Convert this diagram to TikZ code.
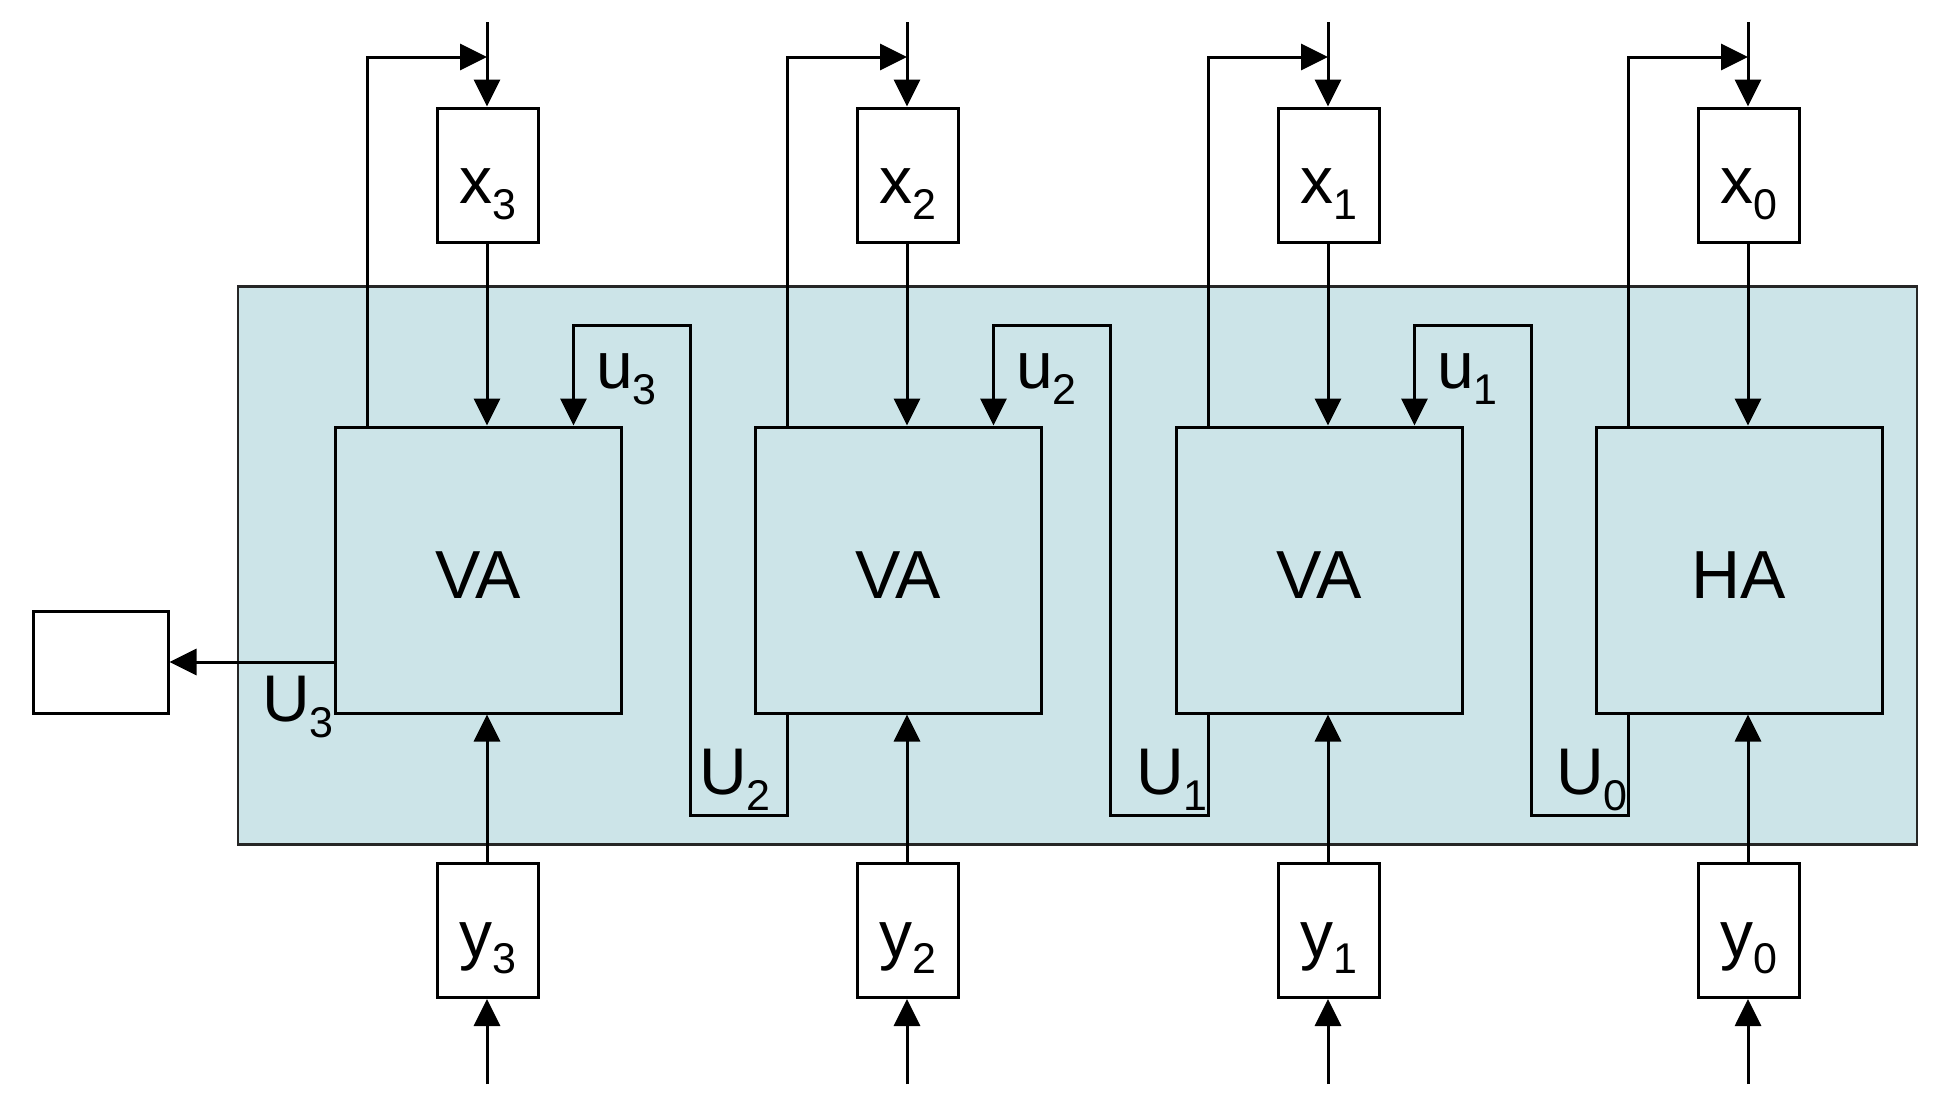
\documentclass[tikz,border=0pt]{standalone}
\usepackage{fontspec}
\setmainfont{Liberation Sans}
\usetikzlibrary{arrows.meta,calc}
\definecolor{tealfill}{RGB}{204,228,232}
\newcommand{\lab}[2]{\fontsize{66}{70}\selectfont #1\raisebox{-16pt}{\fontsize{43}{45}\selectfont #2}}
\begin{document}
\begin{tikzpicture}[x=1pt,y=-1pt,
  wire/.style={line width=3pt},
  arr/.style={wire,-{Triangle[length=27pt,width=26pt]}},
  smallbox/.style={draw,line width=3pt,fill=white,minimum width=101pt,minimum height=134pt,inner sep=0},
  adder/.style={draw,line width=3pt,fill=tealfill,minimum width=286pt,minimum height=286pt,inner sep=0},
  lbl/.style={inner sep=0,anchor=base west},
  clbl/.style={inner sep=0,anchor=base},
]
\useasboundingbox (0,0) rectangle (1940,1100);
\fill[white] (0,0) rectangle (1940,1100);

% teal frame
\node[draw=black!85,line width=2.5pt,fill=tealfill,minimum width=1679pt,minimum height=558pt,inner sep=0] (core) at (1077.5,565.5) {};

% stages
\foreach \i/\cx/\nm in {3/487/VA,2/907/VA,1/1328/VA,0/1748/HA}{
  \node[adder] (va\i) at (\cx-9,570) {};
  \node[clbl,font=\fontsize{68}{70}\selectfont] (vl\i) at (\cx-9,598) {\nm};
  \node[smallbox] (x\i) at (\cx+0.5,175) {};
  \node[smallbox] (y\i) at (\cx+0.5,930.5) {};
  \node[clbl] (xl\i) at (\cx+0.5,203) {\lab{x}{\i}};
  \node[clbl] (yl\i) at (\cx+0.5,957) {\lab{y}{\i}};
  \coordinate (tin\i) at (\cx,22);
  \coordinate (jn\i) at (\cx,57);
  \coordinate (bin\i) at (\cx,1084);
  \draw[arr] (tin\i) -- (x\i.north -| tin\i);
  \draw[arr] (x\i.south -| tin\i) -- (va\i.north -| tin\i);
  \draw[arr] (bin\i) -- (y\i.south -| bin\i);
  \draw[arr] (y\i.north -| bin\i) -- (va\i.south -| bin\i);
  \draw[arr] ($(va\i.north west)+(34,0)$) |- (jn\i);
}

% carry loops
\foreach \i/\j in {3/2,2/1,1/0}{
  \draw[arr] ($(va\j.south west)+(34,0)$) -- ++(0,101) -| ($(va\i.north east)+(68,-100)$) -| ($(va\i.north east)+(-49,0)$);
}

% u labels
\node[lbl] (ul3) at (596,388) {\lab{u}{3}};
\node[lbl] (ul2) at (1016,388) {\lab{u}{2}};
\node[lbl] (ul1) at (1437,388) {\lab{u}{1}};

% U labels
\node[lbl] (Ul3) at (262,721) {\lab{U}{3}};
\node[lbl] (Ul2) at (699,794) {\lab{U}{2}};
\node[lbl] (Ul1) at (1136,794) {\lab{U}{1}};
\node[lbl] (Ul0) at (1556,794) {\lab{U}{0}};

% output box
\node[draw,line width=3pt,fill=white,minimum width=135pt,minimum height=102pt,inner sep=0] (out) at (100.5,662) {};
\draw[arr] (va3.west |- out.east) -- (out.east);
\end{tikzpicture}
\end{document}
